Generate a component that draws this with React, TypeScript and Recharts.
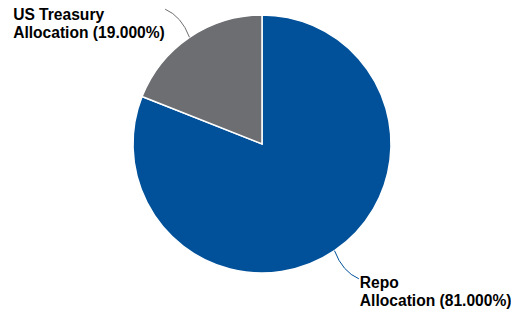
import { PieChart, Pie, Cell } from 'recharts';

const NAMES = ['Repo', 'US Treasury'];
const VALUES = [81.0, 19.0];
const COLORS = ['#00519a', '#6d6e71'];

const data = NAMES.map((name, i) => ({ name, value: VALUES[i] }));

const RAD = Math.PI / 180;
const polar = (cx: number, cy: number, r: number, angle: number) => ({
  x: cx + r * Math.cos(-angle * RAD),
  y: cy + r * Math.sin(-angle * RAD),
});

const renderLine = (props: any) => {
  const { cx, cy, midAngle, outerRadius, index } = props;
  const p0 = polar(cx, cy, outerRadius, midAngle);
  const p1 = polar(cx, cy, outerRadius + 22, midAngle - 2);
  const p2 = polar(cx, cy, outerRadius + 37, midAngle + 1.5);
  return (
    <path
      d={`M${p0.x},${p0.y} Q${p1.x},${p1.y} ${p2.x},${p2.y}`}
      stroke={COLORS[index % COLORS.length]}
      strokeWidth={1}
      fill="none"
    />
  );
};

const renderLabel = (props: any) => {
  const { cx, cy, midAngle, outerRadius, index } = props;
  const end = polar(cx, cy, outerRadius + 37, midAngle + 1.5);
  const left = end.x < cx;
  const x = left ? end.x - 152 : end.x + 1;
  const y = left ? end.y + 11 : end.y + 9.5;
  const pct = VALUES[index].toFixed(3);
  return (
    <text
      x={x}
      y={y}
      fill="#000"
      fontSize={15.6}
      fontWeight="bold"
      fontFamily="'Liberation Sans', Arial, sans-serif"
      textAnchor="start"
    >
      <tspan x={x} y={y}>{NAMES[index]}</tspan>
      <tspan x={x} y={y + 18}>Allocation ({pct}%)</tspan>
    </text>
  );
};

export default function App() {
  return (
    <div style={{ position: 'absolute', left: 0, top: 0, background: '#fff' }}>
      <PieChart width={511} height={313} margin={{ top: 0, right: 0, bottom: 0, left: 0 }}>
        <Pie
          data={data}
          dataKey="value"
          nameKey="name"
          cx={262}
          cy={144}
          outerRadius={129}
          startAngle={90}
          endAngle={-270}
          stroke="#fff"
          strokeWidth={1.5}
          label={renderLabel}
          labelLine={renderLine}
          isAnimationActive={false}
        >
          {data.map((_, i) => (
            <Cell key={i} fill={COLORS[i % COLORS.length]} />
          ))}
        </Pie>
      </PieChart>
    </div>
  );
}
